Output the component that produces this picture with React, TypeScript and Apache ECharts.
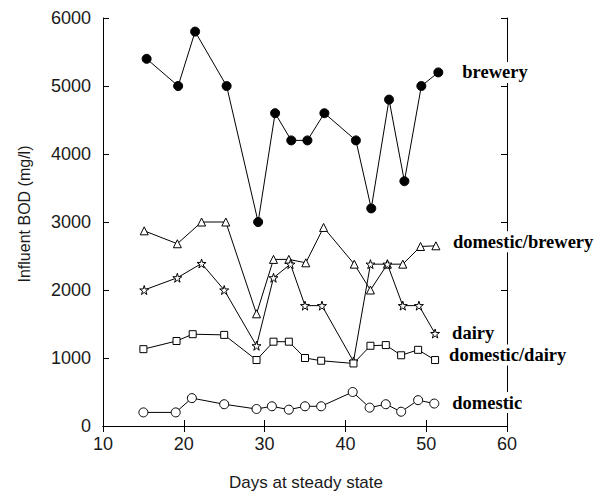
import React, { useEffect, useRef } from "react";
import * as echarts from "echarts";

// Data
const breweryX = [15.4, 19.3, 21.4, 25.3, 29.2, 31.3, 33.3, 35.3, 37.4, 41.3, 43.2, 45.4, 47.3, 49.4, 51.5];
const breweryY = [5400, 5000, 5800, 5000, 3000, 4600, 4200, 4200, 4600, 4200, 3200, 4800, 3600, 5000, 5200];

const domBrewX = [15.1, 19.2, 22.2, 25.2, 29.0, 31.1, 33.0, 35.1, 37.3, 41.1, 43.1, 45.2, 47.1, 49.3, 51.2];
const domBrewY = [2870, 2680, 3000, 3000, 1650, 2450, 2450, 2400, 2920, 2380, 2000, 2380, 2380, 2640, 2650];

const dairyX = [15.1, 19.2, 22.2, 25.0, 29.0, 31.1, 33.2, 35.0, 37.1, 41.0, 43.1, 45.2, 47.1, 49.1, 51.1];
const dairyY = [2000, 2180, 2390, 2000, 1180, 2180, 2380, 1770, 1770, 950, 2380, 2380, 1770, 1770, 1360];

const domDairyX = [15.0, 19.1, 21.1, 25.0, 29.0, 31.1, 33.0, 35.0, 37.0, 41.0, 43.1, 45.0, 46.9, 49.0, 51.1];
const domDairyY = [1130, 1250, 1350, 1340, 970, 1240, 1240, 1000, 960, 920, 1180, 1190, 1040, 1120, 970];

const domesticX = [15.0, 19.0, 21.0, 25.0, 29.0, 30.9, 33.0, 35.0, 37.0, 40.9, 43.0, 45.0, 46.9, 49.0, 51.0];
const domesticY = [200, 200, 410, 320, 250, 290, 240, 290, 290, 500, 270, 320, 210, 380, 330];

const xTicks = { min: 10, max: 60, interval: 10 };
const yTicks = { min: 0, max: 6000, interval: 1000 };

const STAR = "path://M50,0 L61,35 L98,35 L68,57 L79,91 L50,70 L21,91 L32,57 L2,35 L39,35 Z";

const pairs = (xs: number[], ys: number[]) => xs.map((x, i) => [x, ys[i]]);

export default function App() {
  const ref = useRef<HTMLDivElement>(null);
  useEffect(() => {
    if (!ref.current) return;
    const chart = echarts.init(ref.current, null, { renderer: "svg" });
    const tickFont = { fontFamily: "Liberation Sans", fontSize: 18, color: "#1a1a1a", formatter: (v: number) => String(v) };
    const labelStyle = (dist: number, dy: number) => ({
      show: true,
      formatter: (p: any) => p.seriesName,
      distance: dist,
      offset: [0, dy],
      fontFamily: "Liberation Serif",
      fontWeight: "bold",
      fontSize: 18.5,
      color: "#000",
      backgroundColor: "#fff",
      padding: [1, 2],
    });
    const mk = (name: string, xs: number[], ys: number[], symbol: string, size: number, fill: string, dist: number, dy: number) => ({
      name,
      type: "line",
      xAxisIndex: 0,
      yAxisIndex: 0,
      data: pairs(xs, ys),
      symbol,
      symbolSize: size,
      showAllSymbol: true,
      lineStyle: { color: "#000", width: 1 },
      itemStyle: { color: fill, borderColor: "#000", borderWidth: 1 },
      endLabel: labelStyle(dist, dy),
      z: 3,
    });
    const axisLine = { show: true, lineStyle: { color: "#000", width: 1 } };
    chart.setOption({
      animation: false,
      backgroundColor: "#fff",
      grid: { left: 103, right: 106, top: 18, bottom: 71, containLabel: false },
      xAxis: [
        {
          type: "value",
          position: "bottom",
          ...xTicks,
          axisLine,
          axisTick: { show: true, inside: true, length: 6, lineStyle: { color: "#000" } },
          axisLabel: { ...tickFont, margin: 9 },
          splitLine: { show: false },
        },
        {
          type: "value",
          position: "top",
          ...xTicks,
          axisLine,
          axisTick: { show: true, inside: true, length: 6, lineStyle: { color: "#000" } },
          axisLabel: { show: false },
          splitLine: { show: false },
        },
      ],
      yAxis: [
        {
          type: "value",
          position: "left",
          ...yTicks,
          axisLine,
          axisTick: { show: true, inside: true, length: 6, lineStyle: { color: "#000" } },
          axisLabel: { ...tickFont, margin: 12 },
          splitLine: { show: false },
        },
        {
          type: "value",
          position: "right",
          ...yTicks,
          axisLine,
          axisTick: { show: true, inside: true, length: 6, lineStyle: { color: "#000" } },
          axisLabel: { show: false },
          splitLine: { show: false },
        },
      ],
      graphic: [
        {
          type: "text",
          x: 24,
          y: 214,
          rotation: Math.PI / 2,
          style: {
            text: "Influent BOD (mg/l)",
            fontFamily: "Liberation Sans",
            fontSize: 16,
            fill: "#1a1a1a",
            align: "center",
            verticalAlign: "middle",
          },
        },
        {
          type: "text",
          x: 306,
          y: 482,
          style: {
            text: "Days at steady state",
            fontFamily: "Liberation Sans",
            fontSize: 17,
            fill: "#1a1a1a",
            align: "center",
            verticalAlign: "middle",
          },
        },
      ],
      series: [
        mk("brewery", breweryX, breweryY, "circle", 9, "#000", 22, 0),
        mk("domestic/brewery", domBrewX, domBrewY, "triangle", 8, "#fff", 15, -4),
        mk("dairy", dairyX, dairyY, STAR, 9, "#fff", 15, -1),
        mk("domestic/dairy", domDairyX, domDairyY, "rect", 7, "#fff", 12, -5),
        mk("domestic", domesticX, domesticY, "circle", 9, "#fff", 16, -1),
      ],
    });
    return () => chart.dispose();
  }, []);
  return <div ref={ref} style={{ width: 613, height: 497, position: "absolute", left: 0, top: 0 }} />;
}
